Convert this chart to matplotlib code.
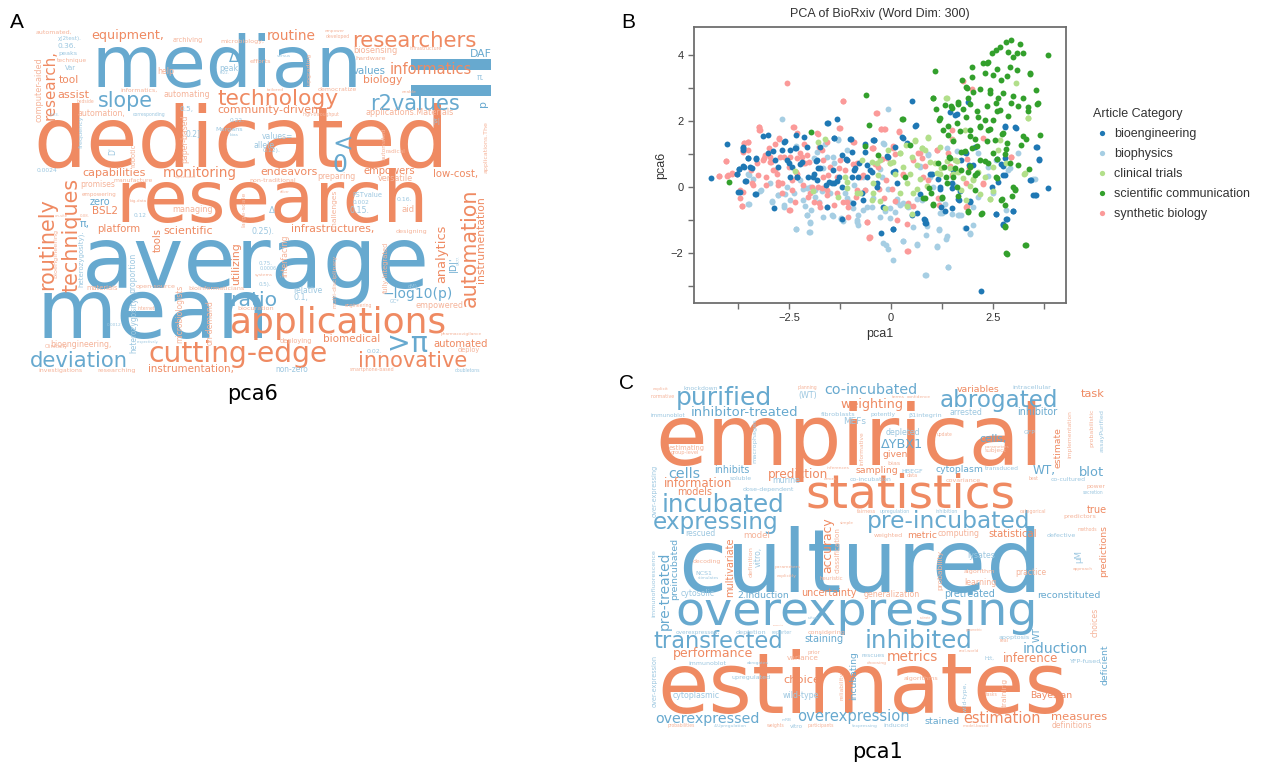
import matplotlib
matplotlib.use("Agg")
import matplotlib.pyplot as plt
import numpy as np
from matplotlib.font_manager import FontProperties
from matplotlib.lines import Line2D
from matplotlib.colors import to_rgb

W, H = 1280, 768
ORANGE = "#ef8a62"
BLUE = "#67a9cf"
INK = "#333333"
SPINE = "#6e6e6e"
CLOUD_FONT = "DejaVu Sans"
SANS = ["Liberation Sans", "DejaVu Sans"]

# ---------------------------------------------------------------- panel A
# words of the pca6 cloud: (word, group)  o = positive side, b = negative side
A_WORDS = [
    ("median", "b"), ("=", "b"), ("dedicated", "o"), ("research", "o"),
    ("average", "b"), ("mean", "b"), ("applications", "o"), ("cutting-edge", "o"),
    ("innovative", "o"), ("deviation", "b"), (">π", "b"), ("technology", "o"),
    ("researchers", "o"), ("r2values", "b"), ("slope", "b"), ("informatics", "o"),
    ("routine", "o"), ("equipment,", "o"), ("monitoring", "o"), ("capabilities", "o"),
    ("endeavors", "o"), ("empowers", "o"), ("low-cost,", "o"), ("community-driven", "o"),
    ("biology", "o"), ("values", "b"), ("biosensing", "o"), ("DAF", "b"),
    ("applications.Materials", "o"), ("ratio", "b"), ("−log10(p)", "b"), ("biomedical", "o"),
    ("automated", "o"), ("empowered", "o"), ("infrastructures,", "o"), ("scientific", "o"),
    ("platform", "o"), ("tool", "o"), ("assist", "o"), ("automation,", "o"),
    ("automating", "o"), ("instrumentation,", "o"), ("investigations", "o"), ("researching", "o"),
    ("non-zero", "b"), ("bioengineering,", "o"), ("deploying", "o"), ("relative", "b"),
    ("0.1,", "b"), ("BSL2", "o"), ("zero", "b"), ("promises", "o"),
    ("managing", "o"), ("preparing", "o"), ("versatile", "o"), ("aid", "o"),
    ("0.15.", "b"), ("0.25).", "b"), ("designing", "o"), ("open-source", "o"),
    ("bioinformaticians", "o"), ("materials", "o"), ("peak", "b"), ("Δ", "b"),
    ("archiving", "o"), ("microbiology,", "o"), ("automated,", "o"), ("χ(2test).", "b"),
    ("0.36.", "b"), ("peaks", "b"), ("technique", "o"), ("Var", "b"),
    ("informatics,", "o"), ("democratize", "o"), ("efforts", "o"), ("0.5,", "b"),
    ("<", "b"), ("0", "b"), ("D'", "b"), ("|D|'", "b"),
    ("frequency", "b"), ("heterozygosity).", "b"), ("bioengineering", "o"), ("paper-based", "o"),
    ("large-scale", "o"), ("interfacing", "o"), ("challenges", "o"), ("multi-disciplinary", "o"),
    ("fully-integrated", "o"), ("automated", "o"), ("microbiologists", "o"), ("on-demand", "o"),
    ("robotic", "o"), ("heterozygosity", "b"), ("upgrading", "o"), ("applications.The", "o"),
    ("automation", "o"), ("instrumentation", "o"), ("analytics", "o"), ("routinely", "o"),
    ("techniques", "o"), ("research,", "o"), ("computer-aided", "o"), ("tools", "o"),
    ("utilizing", "o"), ("proportion", "b"), ("π,", "b"), ("Morgans", "b"),
    ("values=", "b"), ("allele", "b"), ("0.12).", "b"), ("FSTvalue", "b"),
    ("0.002", "b"), ("0.16.", "b"), ("0.0024", "b"), ("manufacture", "o"),
    ("empowering", "o"), ("0.12", "b"), ("non-traditional", "o"), ("0.5).", "b"),
    ("0.75.", "b"), ("0.02.", "b"), ("deploy", "o"), ("pharmacovigilance", "o"),
    ("doubletons", "b"), ("smartphone-based", "o"), ("cM).", "b"), ("GC*", "b"),
    ("biocuration", "o"), ("internet", "o"), ("engineering", "o"), ("systems", "o"),
    ("0.0006", "b"), ("|s|", "b"), ("Δ", "b"), ("hardware", "o"),
    ("infrastructure", "o"), ("empower", "o"), ("developed", "o"), ("versus", "b"),
    ("tailored", "o"), ("high-throughput", "o"), ("enable", "o"), ("corresponding", "b"),
    ("bedside", "o"), ("0.23.", "b"), ("bias", "b"), ("0.22.", "b"),
    ("help", "o"), ("0.2]", "b"), ("0.22.", "b"), ("Clinically", "o"),
    ("0.0012", "b"), ("respectively.", "b"), ("0.08.", "o"), ("on-site", "o"),
    ("big-data", "o"), ("sophisticated", "o"), ("radical", "o"), ("deliver", "o"),
    ("0.177.", "b"), ("π.", "b"), ("p", "b"),
]

# layout of the pca6 cloud (reference pixels): baseline start x, y, ink length, rotation
A_PLACE = [
    (92, 87, 271, 0), (397, 119, 111, 0), (33, 167, 415, 0), (115, 222, 313, 0),
    (82, 288, 348, 0), (37, 338, 233, 0), (230, 333, 217, 0), (148, 362, 180, 0),
    (358, 367, 109, 0), (30, 367, 98, 0), (387, 352, 41, 0), (217, 105, 121, 0),
    (352, 47, 125, 0), (370, 110, 90, 0), (98, 107, 55, 0), (390, 74, 82, 0),
    (267, 40, 49, 0), (91, 39, 72, 0), (163, 177, 74, 0), (82, 176, 63, 0),
    (260, 175, 57, 0), (364, 174, 52, 0), (433, 177, 45, 0), (217, 113, 100, 0),
    (363, 83, 39, 0), (353, 74, 33, 0), (353, 53, 44, 0), (470, 57, 22, 0),
    (365, 115, 87, 0), (230, 306, 47, 0), (383, 298, 70, 0), (323, 342, 57, 0),
    (433, 347, 55, 0), (416, 308, 47, 0), (291, 232, 83, 0), (163, 234, 49, 0),
    (97, 232, 43, 0), (59, 83, 20, 0), (57, 98, 32, 0), (77, 116, 48, 0),
    (164, 97, 46, 0), (148, 372, 85, 0), (38, 372, 44, 0), (97, 372, 38, 0),
    (275, 372, 33, 0), (50, 347, 62, 0), (280, 343, 32, 0), (293, 293, 29, 0),
    (294, 300, 15, 0), (92, 214, 26, 0), (90, 205, 21, 0), (80, 187, 35, 0),
    (172, 212, 40, 0), (317, 179, 38, 0), (378, 181, 35, 0), (402, 212, 13, 0),
    (350, 213, 20, 0), (251, 234, 23, 0), (396, 233, 31, 0), (136, 288, 39, 0),
    (188, 290, 55, 0), (86, 290, 31, 0), (219, 71, 19, 0), (229, 62, 10, 0),
    (173, 42, 30, 0), (220, 43, 43, 0), (36, 34, 36, 0), (58, 40, 24, 0),
    (57, 48, 19, 0), (58, 55, 19, 0), (57, 62, 30, 0), (65, 70, 11, 0),
    (120, 92, 37, 0), (318, 91, 39, 0), (250, 63, 21, 0), (179, 111, 14, 0),
    (332, 151, 21, 0), (332, 172, 15, 0), (115, 155, 8, 90), (456, 272, 16, 90),
    (83, 148, 32, 90), (83, 287, 57, 90), (57, 278, 48, 90), (187, 163, 48, 90),
    (245, 227, 35, 90), (287, 277, 42, 90), (337, 230, 40, 90), (337, 308, 53, 90),
    (388, 293, 51, 90), (386, 160, 32, 90), (182, 343, 58, 90), (213, 345, 45, 90),
    (135, 167, 23, 90), (136, 353, 56, 90), (311, 85, 32, 90), (488, 173, 51, 90),
    (476, 307, 119, 90), (484, 283, 86, 90), (445, 283, 58, 90), (53, 290, 92, 90),
    (78, 292, 114, 90), (55, 120, 70, 90), (41, 122, 64, 90), (161, 252, 24, 90),
    (239, 285, 43, 90), (135, 293, 40, 90), (80, 227, 10, 0), (215, 131, 27, 0),
    (262, 139, 31, 0), (254, 148, 21, 0), (263, 152, 18, 0), (352, 197, 30, 0),
    (353, 204, 17, 0), (397, 201, 16, 0), (37, 172, 21, 0), (113, 182, 39, 0),
    (82, 196, 35, 0), (134, 217, 13, 0), (249, 182, 46, 0), (259, 286, 13, 0),
    (259, 265, 14, 0), (367, 353, 16, 0), (458, 352, 22, 0), (441, 335, 42, 0),
    (455, 372, 26, 0), (350, 371, 45, 0), (408, 288, 12, 0), (390, 303, 10, 0),
    (237, 310, 36, 0), (138, 310, 18, 0), (345, 307, 28, 0), (255, 276, 18, 0),
    (260, 270, 17, 0), (432, 123, 8, 0), (269, 213, 6, 0), (355, 60, 30, 0),
    (410, 50, 32, 0), (325, 32, 20, 0), (326, 38, 24, 0), (277, 57, 14, 0),
    (267, 91, 17, 0), (303, 116, 38, 0), (402, 93, 15, 0), (133, 116, 33, 0),
    (77, 103, 18, 0), (50, 116, 10, 0), (230, 136, 9, 0), (220, 74, 10, 0),
    (157, 74, 17, 0), (185, 136, 15, 0), (230, 122, 15, 0), (45, 348, 23, 0),
    (107, 326, 15, 0), (137, 343, 22, 0), (80, 217, 10, 0), (55, 217, 13, 0),
    (130, 202, 17, 0), (175, 178, 22, 0), (385, 153, 20, 0), (280, 193, 10, 0),
    (460, 265, 10, 90), (477, 80, 8, 0), (486, 107, 7, 90),
]

# ---------------------------------------------------------------- panel C
C_WORDS = [
    ("empirical", "o"), ("cultured", "b"), ("estimates", "o"), ("statistics", "o"),
    ("overexpressing", "b"), ("pre-incubated", "b"), ("incubated", "b"), ("expressing", "b"),
    ("purified", "b"), ("abrogated", "b"), ("co-incubated", "b"), ("inhibitor-treated", "b"),
    ("weighting", "o"), ("task", "o"), ("variables", "o"), ("intracellular", "b"),
    ("inhibitor", "b"), ("arrested", "b"), ("transfected", "b"), ("inhibited", "b"),
    ("induction", "b"), ("reconstituted", "b"), ("overexpressed", "b"), ("overexpression", "b"),
    ("estimation", "o"), ("measures", "o"), ("stained", "b"), ("definitions", "o"),
    ("inference", "o"), ("metrics", "o"), ("performance", "o"), ("variance", "o"),
    ("staining", "b"), ("cytoplasmic", "b"), ("wild-type", "b"), ("choice", "o"),
    ("upregulated", "b"), ("Bayesian", "o"), ("cells", "b"), ("information", "o"),
    ("models", "o"), ("inhibits", "b"), ("soluble", "b"), ("prediction", "o"),
    ("murine", "b"), ("dose-dependent", "b"), ("sampling", "o"), ("HBEGF", "b"),
    ("cytoplasm", "b"), ("transduced", "b"), ("WT,", "b"), ("blot", "b"),
    ("co-cultured", "b"), ("power", "o"), ("ΔYBX1", "b"), ("given", "o"),
    ("bias", "o"), ("depleted", "b"), ("MEFs", "b"), ("fibroblasts", "b"),
    ("potently", "b"), ("β1integrin", "b"), ("knockdown", "b"), ("immunoblot", "b"),
    ("(WT)", "b"), ("true", "o"), ("predictors", "o"), ("statistical", "o"),
    ("defective", "b"), ("computing", "o"), ("metric", "o"), ("weighted", "o"),
    ("model", "o"), ("rescued", "b"), ("decoding", "o"), ("NCS1", "b"),
    ("cytosolic", "b"), ("2.Induction", "b"), ("uncertainty", "o"), ("generalization", "o"),
    ("pretreated", "b"), ("learning", "o"), ("algorithm", "o"), ("practice", "o"),
    ("lysates", "b"), ("overexpressed,", "b"), ("depletion", "b"), ("considering", "o"),
    ("apoptosis", "b"), ("rescues", "b"), ("Htt,", "b"), ("YFP-fused", "b"),
    ("immunoblot", "b"), ("explicit", "o"), ("normative", "o"), ("planning", "o"),
    ("terms", "o"), ("confidence", "o"), ("update", "o"), ("GFP", "b"),
    ("simple", "o"), ("fairness", "o"), ("upregulation", "b"), ("inhibition", "b"),
    ("categorical", "o"), ("heuristic", "o"), ("parameters", "o"), ("explicitly", "o"),
    ("stimulates", "b"), ("approach", "o"), ("estimating", "o"), ("group-level", "o"),
    ("inferences", "o"), ("errors", "o"), ("co-incubation", "b"), ("covariance", "o"),
    ("data", "o"), ("subject", "o"), ("cells,", "b"), ("parameters", "o"),
    ("best", "o"), ("secretion", "b"), ("methods", "o"), ("prior", "o"),
    ("real-world", "o"), ("real", "o"), ("parametric", "o"), ("reporter", "b"),
    ("compute", "o"), ("culture", "b"), ("estimate", "o"), ("abrogates", "b"),
    ("choosing", "o"), ("algorithms", "o"), ("tasks", "o"), ("probabilities", "o"),
    ("4.Upregulation", "b"), ("weights", "o"), ("participants", "o"), ("(expressing", "b"),
    ("induced", "b"), ("vitro", "b"), ("model-based", "o"), ("mRB", "b"),
    ("pre-treated", "b"), ("preincubated", "b"), ("multivariate", "o"), ("accuracy", "o"),
    ("classification", "o"), ("incubating", "b"), ("reliability", "o"), ("estimate", "o"),
    ("implementation", "o"), ("probabilistic", "o"), ("assayPurified", "b"), ("predictions", "o"),
    ("choices", "o"), ("deficient", "b"), ("μM", "b"), ("immunofluorescence", "b"),
    ("over-expressing", "b"), ("over-expression", "b"), ("macrophages", "b"), ("informative", "o"),
    ("WT", "b"), ("wild-type,", "b"), ("training", "o"), ("vitro,", "b"),
    ("definition", "o"), ("probability", "o"),
]

C_PLACE = [
    (655, 465, 388, 0), (678, 592, 364, 0), (657, 713, 410, 0), (805, 508, 210, 0),
    (675, 625, 362, 0), (867, 528, 163, 0), (662, 512, 123, 0), (653, 529, 125, 0),
    (676, 405, 96, 0), (940, 407, 118, 0), (824, 394, 93, 0), (691, 416, 106, 0),
    (840, 408, 63, 0), (1081, 397, 24, 0), (957, 392, 43, 0), (1012, 389, 38, 0),
    (1017, 415, 40, 0), (950, 415, 33, 0), (653, 648, 130, 0), (865, 648, 108, 0),
    (1023, 653, 65, 0), (1037, 598, 63, 0), (655, 723, 104, 0), (797, 721, 112, 0),
    (963, 723, 77, 0), (1051, 720, 56, 0), (924, 724, 35, 0), (1052, 728, 40, 0),
    (1003, 662, 55, 0), (887, 661, 51, 0), (673, 657, 80, 0), (787, 660, 32, 0),
    (804, 642, 39, 0), (673, 698, 47, 0), (783, 698, 36, 0), (783, 683, 37, 0),
    (732, 679, 39, 0), (1030, 698, 42, 0), (668, 478, 32, 0), (664, 487, 68, 0),
    (677, 495, 35, 0), (714, 473, 35, 0), (730, 480, 22, 0), (768, 478, 60, 0),
    (772, 483, 28, 0), (743, 491, 51, 0), (856, 473, 43, 0), (901, 473, 22, 0),
    (936, 472, 48, 0), (985, 470, 34, 0), (1033, 474, 23, 0), (1079, 476, 25, 0),
    (1051, 481, 35, 0), (1087, 488, 19, 0), (881, 448, 42, 0), (883, 457, 25, 0),
    (887, 465, 13, 0), (886, 435, 35, 0), (843, 424, 23, 0), (821, 416, 34, 0),
    (871, 416, 25, 0), (908, 417, 33, 0), (684, 390, 35, 0), (651, 417, 35, 0),
    (798, 398, 19, 0), (1087, 513, 20, 0), (1063, 518, 32, 0), (988, 537, 48, 0),
    (1047, 537, 29, 0), (938, 536, 42, 0), (907, 538, 30, 0), (874, 537, 29, 0),
    (743, 538, 27, 0), (685, 536, 30, 0), (693, 563, 28, 0), (695, 575, 17, 0),
    (681, 596, 34, 0), (737, 598, 51, 0), (801, 596, 55, 0), (864, 597, 56, 0),
    (944, 597, 51, 0), (964, 585, 32, 0), (964, 573, 31, 0), (1015, 575, 31, 0),
    (967, 558, 28, 0), (676, 634, 44, 0), (736, 634, 30, 0), (808, 634, 37, 0),
    (999, 639, 31, 0), (862, 657, 23, 0), (985, 660, 10, 0), (1069, 663, 31, 0),
    (688, 665, 38, 0), (653, 390, 16, 0), (651, 398, 24, 0), (798, 389, 20, 0),
    (892, 398, 13, 0), (907, 398, 24, 0), (937, 436, 16, 0), (1024, 434, 12, 0),
    (840, 524, 14, 0), (857, 513, 19, 0), (880, 513, 30, 0), (936, 513, 22, 0),
    (1020, 513, 26, 0), (820, 580, 24, 0), (775, 568, 26, 0), (777, 577, 20, 0),
    (698, 579, 21, 0), (1073, 570, 20, 0), (669, 450, 36, 0), (671, 454, 28, 0),
    (827, 469, 23, 0), (824, 480, 13, 0), (850, 481, 42, 0), (946, 482, 35, 0),
    (907, 477, 11, 0), (985, 452, 22, 0), (979, 442, 27, 0), (985, 448, 25, 0),
    (1029, 480, 10, 0), (1083, 494, 21, 0), (1078, 531, 20, 0), (808, 654, 13, 0),
    (959, 652, 20, 0), (1000, 642, 9, 0), (966, 631, 17, 0), (772, 634, 20, 0),
    (773, 626, 11, 0), (808, 619, 11, 0), (920, 619, 11, 0), (747, 664, 22, 0),
    (867, 664, 20, 0), (904, 680, 34, 0), (986, 696, 12, 0), (668, 727, 28, 0),
    (714, 727, 33, 0), (767, 727, 18, 0), (808, 727, 27, 0), (852, 727, 26, 0),
    (883, 727, 25, 0), (790, 728, 13, 0), (963, 727, 26, 0), (782, 721, 10, 0),
    (669, 630, 78, 90), (677, 600, 62, 90), (733, 597, 59, 90), (831, 573, 56, 90),
    (840, 573, 46, 90), (856, 700, 48, 90), (844, 700, 28, 90), (1061, 468, 41, 90),
    (1071, 458, 48, 90), (1093, 447, 38, 90), (1104, 452, 42, 90), (1106, 577, 52, 90),
    (1098, 637, 29, 90), (1108, 685, 40, 90), (1081, 563, 13, 90), (655, 617, 67, 90),
    (657, 517, 52, 90), (657, 707, 52, 90), (756, 463, 44, 90), (864, 465, 34, 90),
    (1040, 642, 15, 90), (967, 712, 30, 90), (1007, 707, 29, 90), (761, 567, 20, 90),
    (753, 577, 30, 90), (942, 590, 40, 90),
]

# ---------------------------------------------------------------- panel B
CATEGORIES = ["bioengineering", "biophysics", "clinical trials",
              "scientific communication", "synthetic biology"]
CAT_COLORS = ["#1f78b4", "#a6cee3", "#b2df8a", "#33a02c", "#fb9a99"]

BIOENG = [
    (-4.42, 0.28), (-4.04, 1.29), (-3.78, 0.38), (-3.73, 0.54), (-3.64, 1.21), (-3.64, 1.11),
    (-3.60, 0.61), (-3.56, 0.18), (-3.51, 0.86), (-3.46, 0.61), (-3.70, -0.15), (-3.33, -0.22),
    (-3.32, 0.86), (-3.15, 1.55), (-3.01, 1.57), (-3.03, 1.03), (-2.84, 0.81), (-2.87, -0.64),
    (-2.64, 1.36), (-2.56, 0.81), (-2.48, 1.11), (-2.44, 0.61), (-2.35, 1.19), (-2.34, 1.57),
    (-2.32, 0.30), (-2.19, 0.76), (-2.13, 1.52), (-2.07, 1.21), (-2.03, 0.30), (-1.90, 0.40),
    (-1.82, 0.81), (-1.74, 0.56), (-1.59, 0.05), (-1.54, 1.92), (-1.41, 0.10), (-1.39, 1.48),
    (-1.33, 2.04), (-1.27, 0.30), (-1.21, -0.99), (-1.09, 0.81), (-1.01, 1.44), (-0.96, 0.30),
    (-0.92, 0.51), (-0.78, 0.71), (-0.72, -0.20), (-0.64, 1.31), (-0.60, 0.30), (-0.47, 0.45),
    (-0.42, 1.41), (-0.35, 0.00), (-0.25, -1.41), (-0.20, -0.61), (-0.08, 0.91), (0.06, 0.45),
    (0.04, -1.29), (0.10, 1.21), (0.14, 0.10), (0.29, 1.49), (0.39, 1.34), (0.51, 2.61),
    (0.52, -0.86), (0.60, 1.84), (0.63, -0.79), (0.83, -1.01), (0.86, -1.11), (0.96, 0.40),
    (1.20, 0.00), (1.24, -0.61), (1.50, 0.10), (1.58, 2.17), (1.67, -0.40), (1.73, 0.81),
    (1.85, 1.01), (1.89, 2.58), (1.94, -0.45), (2.02, 0.66), (2.07, 1.21), (2.48, 0.00),
    (2.57, -0.81), (2.63, 0.15), (2.75, 0.63), (2.79, 1.82), (2.75, -1.16), (2.83, -0.99),
    (3.00, -0.74), (2.79, 0.35), (3.05, 1.80), (3.41, 0.20), (3.49, -0.25), (3.57, -0.25),
    (3.57, 1.21), (3.64, 0.81), (3.86, -0.05), (2.21, -3.17), (1.51, -0.05),
    (-3.64, 1.18), (-3.63, 0.63), (-3.73, 0.54), (-3.79, 0.38), (-3.59, 0.17), (-3.52, 0.88),
    (-3.42, 0.58), (-3.32, 0.84), (-3.75, -0.17), (-3.32, -0.22), (-2.89, 1.09), (-2.78, 0.61),
    (-2.68, 1.11), (-2.60, 1.38), (-2.51, 0.71), (-2.33, 1.16), (-2.30, 0.30), (-2.23, 0.68),
    (-1.92, 0.30), (-1.84, 0.79), (-1.79, 0.58), (-1.74, 1.21), (-1.56, 1.92), (-1.40, 1.48),
    (-1.52, 0.15), (-1.46, 0.10), (-1.33, 0.18), (-1.43, 0.51), (-1.21, 0.96), (-1.11, 0.84),
    (-0.99, 1.44), (-0.95, 1.06), (-0.88, 0.56), (-0.80, 0.30), (-0.65, 1.06), (-0.60, 0.66),
    (-0.52, 0.51), (-0.43, 1.42), (-0.68, -0.40), (-0.94, -0.50), (-1.58, -0.61), (-1.21, -0.02),
    (-1.83, 0.20), (-2.48, 0.30), (0.61, 1.86), (0.28, 1.51), (0.39, 1.31), (-0.42, 1.43),
    (0.10, 0.48), (-0.11, 0.93), (-0.35, 0.12), (0.71, -0.23), (1.16, 0.24), (1.20, -0.08),
    (1.49, -0.64), (1.65, -0.38), (1.94, -0.43), (0.82, -0.97), (0.84, -1.09), (0.04, -1.27),
    (1.00, 0.38), (1.53, 0.51), (1.79, 1.05), (1.92, 0.65), (1.61, 2.19), (1.45, 2.27),
    (2.60, 0.83), (2.70, 0.68), (2.80, 1.84), (3.07, 1.79), (2.76, 0.35), (2.80, 0.88),
    (3.43, 0.22), (3.55, -0.25), (3.58, 1.21), (3.64, 0.83), (3.00, -0.74), (2.84, -0.97),
    (2.58, -0.81), (2.76, -1.14), (1.84, -1.24), (1.70, -0.12), (1.33, -0.74),
]

BIOPHYS = [
    (-3.51, 0.40), (-3.50, -0.51), (-3.21, -0.12), (-2.92, -0.45), (-2.77, -0.25), (-2.68, 2.04),
    (-2.62, -0.56), (-2.56, 0.00), (-2.39, -0.20), (-2.34, -1.29), (-2.23, 0.20), (-2.15, -0.40),
    (-2.07, -0.86), (-2.00, -1.38), (-1.99, -1.06), (-1.86, -0.10), (-1.78, -0.45), (-1.66, 0.56),
    (-1.50, -0.20), (-1.46, -0.86), (-1.29, 1.46), (-1.23, -0.99), (-1.13, -0.20), (-1.01, -0.45),
    (-0.92, 0.05), (-0.84, -1.01), (-0.80, -1.16), (-0.68, 0.30), (-0.60, -0.61), (-0.43, -0.35),
    (-0.27, -0.91), (-0.23, 0.30), (-0.17, 1.31), (-0.07, 2.35), (-0.12, -1.77), (-0.07, -1.87),
    (-0.02, -0.96), (0.06, -2.22), (0.10, -0.76), (0.14, -0.45), (0.22, -0.56), (0.30, -1.65),
    (0.42, -0.61), (0.55, -1.21), (0.65, -1.74), (0.75, -0.40), (0.84, -2.68), (0.87, -1.46),
    (0.92, 0.96), (1.12, -1.82), (1.18, -1.31), (1.26, -0.79), (1.32, -0.51), (1.36, -1.57),
    (1.40, -2.42), (1.51, -0.81), (1.67, -0.86), (1.73, -0.84), (1.81, -1.26), (1.94, -1.41),
    (2.02, -0.61), (2.14, -0.30), (2.39, 0.61), (2.59, 0.81), (2.87, 0.51), (3.12, 1.01),
    (3.50, 0.25), (2.83, -0.71), (2.51, -0.20), (1.04, 0.00), (0.97, 0.30), (0.71, 0.61),
    (-1.41, 0.71), (-1.58, 0.91), (-1.82, 1.06), (-2.00, 0.00),
    (-3.38, 0.25), (-3.48, 0.35), (-3.19, -0.10), (-3.51, -0.52), (-2.92, -0.44), (-2.78, -0.25),
    (-2.97, 0.10), (-2.60, -0.22), (-2.64, -0.61), (-2.33, -1.29), (-2.48, -0.40), (-2.15, -0.08),
    (-2.11, -0.58), (-2.07, -0.86), (-1.99, -1.09), (-2.01, -1.38), (-1.96, -0.71), (-1.87, -0.30),
    (-1.70, -0.12), (-1.58, -0.61), (-1.66, -0.91), (-1.42, -0.89), (-1.24, -0.96), (-1.19, -1.03),
    (-1.09, -0.35), (-0.94, -0.65), (-0.84, -1.06), (-0.80, -0.86), (-0.68, -0.71), (-0.47, -0.61),
    (-2.33, 1.24), (-1.62, 1.31), (-1.29, 1.42), (-1.09, 1.11), (-1.42, 0.91), (-1.89, 0.86),
    (-2.07, -0.05), (-0.64, -0.10), (-0.35, 0.00), (-0.19, 1.33), (-0.27, 0.53), (-0.07, -0.08),
    (0.14, -0.38), (0.30, -0.48), (-0.02, -0.64), (-0.15, -0.74), (0.47, -0.58), (0.63, -0.38),
    (0.88, -1.19), (1.19, -1.29), (1.37, -1.49), (1.12, -1.80), (0.63, -1.75), (0.30, -1.65),
    (-0.19, -1.70), (0.86, -2.67), (1.41, -2.42), (1.20, -0.79), (1.65, -0.84), (2.02, -1.17),
    (1.94, -1.44), (1.37, 1.18), (2.15, 1.03), (2.39, 0.32), (2.92, 0.58), (3.54, 0.24),
    (1.61, 1.08), (0.92, 0.98), (0.71, 0.63), (1.57, 0.02), (1.20, -0.38),
]

CLINICAL = [
    (-1.63, 1.44), (-2.35, 0.48), (-1.13, 0.30), (-0.84, -0.18), (-0.47, -0.40), (-0.43, 0.10),
    (-0.27, 0.81), (-0.02, 0.71), (0.06, 0.76), (0.22, 1.01), (0.38, 1.26), (0.51, 0.91),
    (0.59, 1.39), (0.63, 0.66), (0.47, 0.40), (0.55, -0.20), (0.71, 0.25), (0.75, 1.16),
    (0.83, 1.11), (0.92, 1.49), (0.96, 0.76), (1.08, 0.71), (1.20, 0.40), (1.24, 0.56),
    (1.36, 2.68), (1.53, 1.43), (1.45, 0.56), (1.57, 0.81), (1.65, 0.45), (1.73, -0.10),
    (1.81, 1.72), (1.85, -0.40), (2.02, 0.25), (2.14, 0.45), (2.30, 0.30), (2.43, -0.37),
    (2.67, 1.41), (2.63, 1.11), (3.08, 3.13), (3.36, 2.09), (3.28, 0.40), (2.83, 0.71),
    (2.51, 0.61), (1.20, 1.21), (0.22, -0.20), (0.30, 0.61), (-0.72, 0.81), (0.51, -0.81),
    (-0.07, 1.11), (-1.09, -0.05),
    (1.37, 2.70), (0.92, 1.52), (0.59, 1.42), (0.75, 1.18), (0.22, 1.03), (-0.02, 0.73),
    (-0.35, 0.73), (0.10, 0.38), (0.39, 0.12), (0.63, -0.08), (0.88, 0.02), (1.12, 0.42),
    (1.37, 0.78), (1.61, 0.78), (1.53, 0.38), (1.78, 0.27), (2.02, 0.22), (2.43, -0.38),
    (2.51, -0.13), (3.29, 0.42), (3.37, 2.09), (-0.27, -0.43), (-0.15, -0.64), (-0.43, -0.18),
    (0.39, -0.58), (1.94, 0.02), (2.19, -0.23), (-1.80, 1.36), (-1.09, 0.15), (-0.76, -0.20),
    (-0.47, 0.76), (-0.31, 0.35), (-1.29, -0.30), (-1.92, -0.12),
]

SCICOMM = [
    (-3.97, 0.16), (-1.97, 1.65), (-0.62, 2.78), (-0.55, 1.86), (0.28, 2.06), (-0.33, 0.97),
    (1.08, 3.52), (1.02, 2.70), (1.11, 2.35), (1.17, 2.01), (1.33, 2.47), (1.29, 1.72),
    (1.41, 1.57), (1.31, 0.61), (1.26, -0.30), (1.03, -0.56), (0.94, -0.05), (1.53, 1.39),
    (1.61, 1.92), (1.48, 2.44), (1.65, 2.58), (1.77, 2.37), (1.84, 3.03), (1.85, 2.12),
    (1.89, 2.68), (1.94, 1.72), (1.98, 3.62), (2.00, 3.33), (2.02, 2.88), (2.06, 1.46),
    (1.98, 1.16), (1.94, 0.61), (2.06, 0.35), (2.18, 0.81), (2.22, -0.81), (2.26, 3.74),
    (2.30, 3.46), (2.39, 3.79), (2.43, 2.93), (2.51, 3.38), (2.47, 4.04), (2.59, 4.14),
    (2.67, 4.24), (2.83, 4.39), (2.96, 4.44), (3.16, 4.34), (3.24, 4.04), (2.88, 4.09),
    (3.00, 3.94), (3.10, 3.54), (2.92, 3.64), (2.71, 3.23), (2.75, 2.83), (2.59, 2.53),
    (2.96, 2.53), (3.24, 2.68), (3.36, 2.42), (3.41, 3.43), (3.57, 2.93), (3.61, 2.53),
    (3.86, 3.99), (3.66, 1.57), (3.32, 1.46), (3.20, 1.26), (3.39, 0.53), (3.12, 0.66),
    (2.92, 0.71), (2.83, 1.13), (2.75, 1.62), (2.55, 1.41), (2.39, 1.72), (2.30, 2.02),
    (2.18, 1.82), (2.14, 2.12), (2.51, 2.02), (2.67, 2.32), (2.51, 1.01), (2.39, 0.71),
    (2.59, 0.30), (2.71, -0.40), (2.79, -0.56), (2.83, -2.02), (2.79, -1.21), (3.00, 0.00),
    (3.04, -0.10), (3.31, -1.77), (1.73, 0.51), (1.61, 0.00), (1.53, 0.30), (1.73, 1.06),
    (1.89, 0.45), (2.06, -0.10), (1.89, -0.76), (0.79, -0.35), (0.99, -0.20), (1.42, 0.91),
    (1.36, 0.30), (0.34, 0.30),
    (1.74, 3.22), (1.86, 3.00), (1.49, 2.39), (1.65, 2.50), (1.94, 2.50), (2.11, 2.29),
    (2.35, 2.45), (2.60, 2.29), (2.88, 2.14), (3.13, 2.45), (3.37, 2.29), (3.58, 2.50),
    (1.20, 2.09), (1.41, 1.84), (1.70, 1.69), (1.94, 1.54), (2.19, 1.84), (2.43, 1.74),
    (2.72, 1.59), (2.84, 1.33), (2.35, 1.38), (2.11, 1.23), (1.82, 1.08), (1.45, 0.88),
    (1.16, 0.73), (1.57, 0.58), (1.94, 0.63), (2.31, 0.78), (2.60, 0.83), (2.80, 0.98),
    (3.25, 1.54), (3.42, 3.45), (3.09, 4.06), (2.35, 3.76), (2.60, 3.56), (2.84, 3.35),
    (2.19, 2.95), (2.43, 2.85), (2.64, 2.70), (3.01, 2.75), (1.25, -0.33), (1.04, -0.53),
    (1.65, -0.28), (1.90, -0.74), (2.23, -0.79), (2.72, -0.38), (2.97, -0.28), (2.80, -1.19),
    (3.29, -1.75), (2.84, -2.03), (3.05, -0.08), (2.60, 0.27), (2.11, 0.42), (1.37, 0.12),
    (0.84, -0.33), (0.47, 1.28), (0.30, 2.04), (1.04, 2.70), (-0.64, 1.23),
]

SYNBIO = [
    (-4.22, 0.34), (-4.05, 0.79), (-4.00, 0.35), (-3.91, 0.40), (-3.72, -0.10), (-3.66, -0.58),
    (-3.64, 1.06), (-3.60, 1.34), (-3.52, 1.36), (-3.42, 0.10), (-3.29, 0.71), (-3.25, 1.82),
    (-3.23, 1.72), (-3.13, 0.86), (-3.07, 0.30), (-3.00, 1.16), (-2.97, 0.76), (-2.89, 0.51),
    (-2.81, 0.40), (-2.77, 0.15), (-2.75, 1.46), (-2.72, 0.91), (-2.68, -0.20), (-2.56, 3.15),
    (-2.51, 0.61), (-2.47, -0.71), (-2.43, 0.20), (-2.39, 1.82), (-2.35, -0.45), (-2.32, 0.40),
    (-2.23, 1.01), (-2.15, 0.71), (-2.07, 0.96), (-2.03, -0.30), (-1.95, 0.00), (-1.90, -0.45),
    (-1.82, 1.62), (-1.78, 1.21), (-1.74, -0.61), (-1.67, 0.30), (-1.58, -0.10), (-1.50, 0.61),
    (-1.41, -0.56), (-1.33, -0.20), (-1.26, 1.77), (-1.25, 0.81), (-1.18, 2.60), (-1.09, -0.45),
    (-1.05, -0.91), (-0.92, 1.36), (-0.84, 0.71), (-0.76, 0.30), (-0.64, -0.10), (-0.60, -1.06),
    (-0.53, -1.54), (-0.43, 1.16), (-0.35, 2.22), (-0.31, 0.61), (-0.25, 1.75), (-0.16, 1.74),
    (-0.11, 0.86), (0.06, 1.16), (0.14, -1.01), (0.20, 1.65), (0.30, 0.35), (0.40, -1.94),
    (0.55, 0.81), (0.67, 1.01), (0.92, 0.20), (1.12, 1.11), (1.18, -0.56), (1.50, 0.35),
    (1.76, 3.21), (1.85, 0.10), (1.85, -0.61), (2.25, 0.08), (2.94, 0.91), (0.79, 0.30),
    (-3.24, 1.82), (-3.24, 1.72), (-3.60, 1.33), (-3.52, 1.36), (-4.05, 0.79), (-4.23, 0.33),
    (-4.04, 0.34), (-3.90, 0.41), (-3.64, 1.09), (-3.51, 1.11), (-3.71, -0.35), (-3.67, -0.58),
    (-3.64, -0.15), (-3.45, 0.51), (-3.40, 0.05), (-3.26, 0.35), (-3.15, 0.81), (-3.10, 0.96),
    (-2.97, 0.91), (-2.95, 0.76), (-2.84, 0.51), (-2.85, 1.31), (-2.74, 1.48), (-2.63, 0.91),
    (-2.77, 0.05), (-2.69, 0.10), (-2.44, -0.10), (-2.50, -0.71), (-2.40, 1.82), (-2.32, 1.64),
    (-2.48, 0.89), (-2.32, 0.86), (-2.33, 0.45), (-2.11, 0.71), (-2.01, 0.76), (-2.19, 0.91),
    (-2.13, 1.31), (-1.80, 1.60), (-1.58, 1.36), (-1.70, 1.11), (-1.66, 0.81), (-1.79, 0.00),
    (-1.70, -0.03), (-1.54, 0.35), (-1.56, -0.25), (-1.76, -0.48), (-1.27, 1.77), (-1.19, 2.60),
    (-1.33, 0.30), (-1.27, 0.56), (-1.09, 0.81), (-1.13, 0.51), (-0.94, 0.69), (-0.93, 1.36),
    (-0.84, -0.10), (-1.17, -0.45), (-1.05, -0.61), (-0.87, -0.32), (-0.68, 0.35), (-0.60, -1.06),
    (-0.53, -1.52), (-0.37, 2.24), (-0.45, 1.19), (-0.25, 1.75), (-2.15, 0.05), (-1.99, -0.18),
    (-3.07, 0.05), (1.98, 2.97), (-0.15, 1.74), (0.20, 1.68), (0.06, 1.23), (0.10, 0.98),
    (-0.23, 0.83), (-0.47, 1.18), (-0.39, 0.68), (-0.12, 0.22), (0.02, -0.08), (-0.29, -0.08),
    (-0.17, -0.33), (0.10, -0.43), (0.43, -0.48), (0.55, -0.58), (0.30, 0.38), (0.71, 1.03),
    (0.75, 0.88), (0.84, 0.63), (1.12, 1.10), (1.41, 1.03), (1.49, 1.44), (1.45, 0.63),
    (1.16, -0.33), (1.86, -0.58), (1.86, 0.85), (1.92, 0.58), (2.27, 0.10), (2.25, 1.48),
    (2.95, 0.91), (1.49, 1.71), (0.39, -1.14), (0.41, -1.95), (-0.52, -1.52),
]
SERIES = [BIOENG, BIOPHYS, CLINICAL, SCICOMM, SYNBIO]
DRAW_ORDER = [1, 4, 0, 2, 3]

X_MAJOR = [-2.5, 0, 2.5]
X_MINOR = [-3.75, -1.25, 1.25, 3.75]
Y_MAJOR = [-2, 0, 2, 4]
Y_MINOR = [-3, -1, 1, 3]


def px_axes(fig, x0, y0, x1, y1):
    return fig.add_axes([x0 / W, 1 - y1 / H, (x1 - x0) / W, (y1 - y0) / H])


def lighten(color, amount):
    r, g, b = to_rgb(color)
    return (r + (1 - r) * amount, g + (1 - g) * amount, b + (1 - b) * amount)


def draw_cloud(ax, words, places, box, label):
    x0, y0, x1, y1 = box
    ax.set_xlim(x0, x1)
    ax.set_ylim(y1, y0)
    ax.set_xticks([])
    ax.set_yticks([])
    for s in ax.spines.values():
        s.set_visible(False)
    ax.set_xlabel(label, fontsize=15, family=CLOUD_FONT, color="black")
    renderer = ax.figure.canvas.get_renderer()
    ref = FontProperties(family=CLOUD_FONT, size=100)
    for (word, grp), (x, y, length, rot) in zip(words, places):
        w, _, _ = renderer.get_text_width_height_descent(word, ref, ismath=False)
        size = 100 * length / w
        em_px = size * ax.figure.dpi / 72
        color = ORANGE if grp == "o" else BLUE
        if em_px < 9:
            color = lighten(color, 0.35)
        ax.text(x, y, word, fontsize=size, family=CLOUD_FONT, color=color,
                rotation=rot, rotation_mode="anchor", ha="left", va="baseline",
                parse_math=False, clip_on=True)


def main():
    fig = plt.figure(figsize=(W / 100, H / 100), dpi=100)
    fig.patch.set_facecolor("white")

    # word clouds
    box_a = (14, 20, 491, 378)
    ax_a = px_axes(fig, *box_a)
    draw_cloud(ax_a, A_WORDS, A_PLACE, box_a, "pca6")

    box_c = (638, 378, 1116, 736)
    ax_c = px_axes(fig, *box_c)
    draw_cloud(ax_c, C_WORDS, C_PLACE, box_c, "pca1")

    # PCA scatter
    ax_b = px_axes(fig, 694, 27, 1066, 303)
    for i in DRAW_ORDER:
        pts = np.array(SERIES[i])
        ax_b.scatter(pts[:, 0], pts[:, 1], s=18, color=CAT_COLORS[i],
                     linewidths=0, zorder=2)
    ax_b.set_xlim(-4.84, 4.30)
    ax_b.set_ylim(-3.52, 4.84)
    ax_b.set_xticks(X_MAJOR)
    ax_b.set_xticklabels(["−2.5", "0", "2.5"])
    ax_b.set_xticks(X_MINOR, minor=True)
    ax_b.set_yticks(Y_MAJOR)
    ax_b.set_yticks(Y_MINOR, minor=True)
    ax_b.tick_params(which="both", length=4, width=1.0, color=SPINE,
                     labelcolor=INK, labelsize=8)
    for lab in ax_b.get_xticklabels() + ax_b.get_yticklabels():
        lab.set_family(SANS)
    for s in ax_b.spines.values():
        s.set_color(SPINE)
        s.set_linewidth(1.3)
    ax_b.set_xlabel("pca1", fontsize=9, family=SANS, color=INK, labelpad=3)
    ax_b.set_ylabel("pca6", fontsize=9, family=SANS, color=INK, labelpad=3)
    ax_b.set_title("PCA of BioRxiv (Word Dim: 300)", fontsize=9, family=SANS,
                   color=INK, pad=7)

    handles = [Line2D([0], [0], ls="", marker="o", ms=3.8, color=c,
                      markeredgewidth=0) for c in CAT_COLORS]
    leg = ax_b.legend(handles, CATEGORIES, title="Article Category",
                      loc="center left", bbox_to_anchor=(1.043, 0.504),
                      frameon=False, handlelength=1.4, handletextpad=0.3,
                      labelspacing=0.64, alignment="left",
                      prop={"family": SANS, "size": 9},
                      title_fontproperties={"family": SANS, "size": 9})
    for t in leg.get_texts():
        t.set_color(INK)
    leg.get_title().set_color(INK)

    # panel letters
    for letter, (x, y) in zip("ABC", [(17, 23), (628, 23), (627, 383)]):
        fig.text(x / W, 1 - y / H, letter, fontsize=15, family=SANS,
                 ha="center", va="center")

    fig.savefig("out.png", dpi=100, facecolor="white")


if __name__ == "__main__":
    main()
